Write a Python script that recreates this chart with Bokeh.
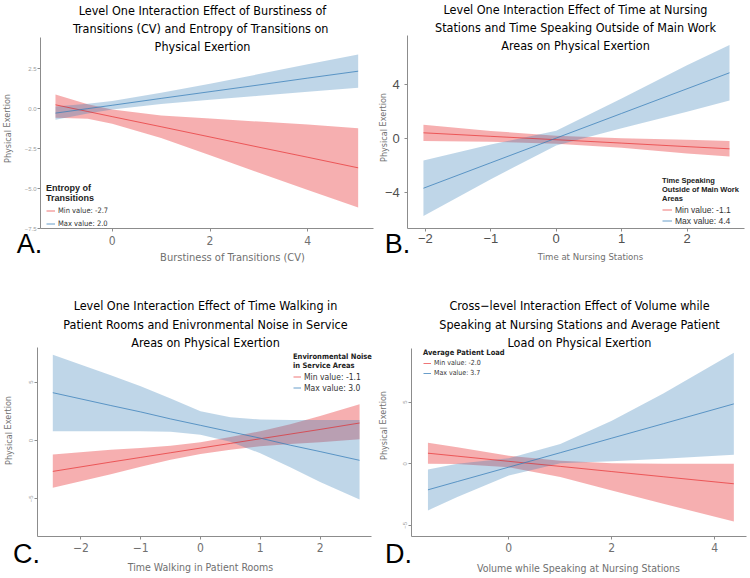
from bokeh.plotting import figure
from bokeh.models import Label, Legend, LegendItem, FixedTicker, Range1d, LinearAxis
from bokeh.layouts import gridplot
from bokeh.embed import file_html
from bokeh.resources import INLINE

RED = "#E41A1C"
BLUE = "#377EB8"
NARROW = "DejaVu Sans Condensed"
SANS = "Liberation Sans"
AXIS_GRAY = "#8c8c8c"
LABEL_GRAY = "#707070"

# ---------------- Panel A ----------------
a_x = [-1.16, -0.5, 0, 1, 2, 3, 4, 5.03]
a_min_fit = [0.25, -0.17, -0.49, -1.12, -1.76, -2.40, -3.03, -3.69]
a_min_hi = [0.89, 0.28, -0.04, -0.42, -0.61, -0.80, -0.98, -1.21]
a_min_lo = [-0.56, -0.62, -0.94, -1.82, -2.91, -4.00, -5.08, -6.17]
a_max_fit = [-0.27, 0.01, 0.22, 0.65, 1.07, 1.49, 1.92, 2.35]
a_max_hi = [0.15, 0.31, 0.49, 1.00, 1.57, 2.17, 2.78, 3.40]
a_max_lo = [-0.69, -0.29, -0.05, 0.30, 0.57, 0.81, 1.06, 1.31]
a_xticks = [0, 2, 4]
a_yticks = [-7.5, -5.0, -2.5, 0.0, 2.5]
a_ytick_labels = ["\u22127.5", "\u22125.0", "\u22122.5", "0.0", "2.5"]
a_title = ["Level One Interaction Effect of Burstiness of",
           "Transitions (CV) and  Entropy of Transitions on",
           "Physical Exertion"]
a_xlabel = "Burstiness of Transitions (CV)"
a_legend_title = "Entropy of\nTransitions"
a_legend = ["Min value: -2.7", "Max value: 2.0"]

# ---------------- Panel B ----------------
b_x = [-2.03, -1, 0, 1, 2, 2.65]
b_min_fit = [0.42, 0.16, -0.09, -0.34, -0.60, -0.76]
b_min_hi = [1.02, 0.56, 0.21, 0.01, -0.10, -0.19]
b_min_lo = [-0.18, -0.24, -0.39, -0.69, -1.10, -1.33]
b_max_fit = [-3.67, -1.79, 0.03, 1.85, 3.67, 4.85]
b_max_hi = [-1.62, -0.45, 0.58, 2.95, 5.40, 6.90]
b_max_lo = [-5.72, -3.00, -0.52, 0.76, 1.98, 2.80]
b_xticks = [-2, -1, 0, 1, 2]
b_yticks = [-4, 0, 4]
b_title = ["Level One Interaction Effect of Time at Nursing",
           "Stations and Time Speaking Outside of Main Work",
           "Areas on Physical Exertion"]
b_xlabel = "Time at Nursing Stations"
b_legend_title = "Time Speaking\nOutside of Main Work\nAreas"
b_legend = ["Min value: -1.1", "Max value: 4.4"]

# ---------------- Panel C ----------------
c_x = [-2.47, -1.5, -1, -0.5, 0, 0.5, 1, 1.5, 2, 2.66]
c_min_fit = [-2.65, -1.85, -1.45, -1.05, -0.65, -0.25, 0.15, 0.55, 0.95, 1.5]
c_min_hi = [-1.2, -0.8, -0.65, -0.45, -0.15, 0.3, 0.8, 1.4, 2.1, 3.1]
c_min_lo = [-4.05, -2.9, -2.25, -1.65, -1.15, -0.8, -0.5, -0.3, -0.15, 0.1]
c_max_fit = [4.1, 3.0, 2.45, 1.85, 1.3, 0.75, 0.2, -0.4, -0.95, -1.7]
c_max_hi = [7.35, 5.6, 4.65, 3.6, 2.5, 2.0, 1.8, 1.75, 1.75, 1.75]
c_max_lo = [0.8, 0.8, 0.8, 0.75, 0.5, -0.1, -1.1, -2.3, -3.55, -5.05]
c_xticks = [-2, -1, 0, 1, 2]
c_yticks = [-5, 0, 5]
c_title = ["Level One Interaction Effect of Time Walking in",
           "Patient Rooms and Enivronmental Noise in Service",
           "Areas on Physical Exertion"]
c_xlabel = "Time Walking in Patient Rooms"
c_legend_title = "Environmental Noise\nin Service Areas"
c_legend = ["Min value: -1.1", "Max value: 3.0"]

# ---------------- Panel D ----------------
d_x = [-1.57, -1, 0, 1, 2, 3, 4.37]
d_min_fit = [0.86, 0.62, 0.20, -0.21, -0.63, -1.05, -1.62]
d_min_hi = [1.70, 1.35, 0.65, 0.25, 0.05, 0.0, 0.0]
d_min_lo = [0.0, -0.02, -0.27, -1.08, -2.16, -3.24, -4.68]
d_max_fit = [-2.11, -1.44, -0.27, 0.90, 2.08, 3.25, 4.86]
d_max_hi = [-0.46, 0.0, 0.45, 1.6, 3.5, 5.7, 9.0]
d_max_lo = [-3.78, -2.7, -0.95, 0.05, 0.2, 0.4, 0.73]
d_xticks = [0, 2, 4]
d_yticks = [-5, 0, 5]
d_title = ["Cross\u2212level Interaction Effect of Volume while",
           "Speaking at Nursing Stations and Average Patient",
           "Load on Physical Exertion"]
d_xlabel = "Volume while Speaking at Nursing Stations"
d_legend_title = "Average Patient Load"
d_legend = ["Min value: -2.0", "Max value: 3.7"]

YLABEL = "Physical Exertion"


def make_panel(fig_box, scale, plot_box, xticks, yticks, x, mn_fit, mn_hi, mn_lo,
               mx_fit, mx_hi, mx_lo):
    """fig_box: (left, top, width, height) in picture px; scale: (X0, KX, Y0, KY) px of value 0
    and px per unit; plot_box: (left, right, top, bottom) of the axes in picture px."""
    fl, ft, w, h = fig_box
    X0, KX, Y0, KY = scale
    xr = ((fl - X0) / KX, (fl + w - X0) / KX)
    yr = ((Y0 - (ft + h)) / KY, (Y0 - ft) / KY)
    p = figure(width=w, height=h, x_range=Range1d(*xr), y_range=Range1d(*yr),
               output_backend="svg", toolbar_location=None,
               x_axis_location=None, y_axis_location=None,
               min_border_left=0, min_border_right=0, min_border_top=0, min_border_bottom=0)
    p.grid.visible = False
    p.outline_line_color = None
    p.background_fill_color = "white"
    p.border_fill_color = "white"
    pl, pr, pt, pb = plot_box
    xl, xh = (pl - X0) / KX, (pr - X0) / KX
    yl, yh = (Y0 - pb) / KY, (Y0 - pt) / KY
    xaxis = LinearAxis(fixed_location=yl, bounds=(xl, xh), ticker=FixedTicker(ticks=xticks))
    yaxis = LinearAxis(fixed_location=xl, bounds=(yl, yh), ticker=FixedTicker(ticks=yticks))
    p.add_layout(xaxis, "below")
    p.add_layout(yaxis, "left")
    p.varea(x=x, y1=mn_lo, y2=mn_hi, fill_color=RED, fill_alpha=0.35)
    p.varea(x=x, y1=mx_lo, y2=mx_hi, fill_color=BLUE, fill_alpha=0.32)
    r1 = p.line(x, mn_fit, line_color=RED, line_alpha=0.6, line_width=1)
    r2 = p.line(x, mx_fit, line_color=BLUE, line_alpha=0.75, line_width=1)
    for ax in (xaxis, yaxis):
        ax.axis_line_color = AXIS_GRAY
        ax.major_tick_line_color = AXIS_GRAY
        ax.minor_tick_line_color = None
        ax.major_tick_in = 0
        ax.major_tick_out = 3
        ax.major_label_text_color = LABEL_GRAY
    return p, xaxis, yaxis, r1, r2


def add_text(p, fig_box, text, rx, ry, size, color="black", font=NARROW, angle=0.0,
             style="normal", align="center"):
    fl, ft, w, h = fig_box
    p.add_layout(Label(x=rx - fl, y=(ft + h) - ry, x_units="screen", y_units="screen", text=text,
                       text_font=font, text_font_size=f"{size}px", text_color=color,
                       text_align=align, text_baseline="middle", angle=angle,
                       text_font_style=style))


def add_legend(p, r1, r2, title, labels, loc, title_font, title_size, label_font, label_size,
               label_h, glyph_w):
    leg = Legend(items=[LegendItem(label=labels[0], renderers=[r1]),
                        LegendItem(label=labels[1], renderers=[r2])],
                 location=loc, title=title, title_text_font=title_font,
                 title_text_font_size=f"{title_size}px", title_text_font_style="bold",
                 title_text_color="#222222", title_standoff=1,
                 label_text_font=label_font, label_text_font_size=f"{label_size}px",
                 label_text_color="#333333", label_height=label_h, glyph_height=label_h,
                 glyph_width=glyph_w, label_standoff=3, spacing=0, padding=0, margin=0,
                 border_line_color=None, background_fill_alpha=0)
    p.add_layout(leg, "center")


TITLE_SIZE = 12.5
YLAB_SIZE = 9

# ---------- A ----------
boxA = (0, 0, 375, 290)
pA, axA, ayA, ra1, ra2 = make_panel(boxA, (111.7, 48.9, 108.3, 16.0), (40, 373, 37, 228.3),
                                    a_xticks, a_yticks, a_x, a_min_fit, a_min_hi, a_min_lo,
                                    a_max_fit, a_max_hi, a_max_lo)
ayA.major_label_overrides = {t: s for t, s in zip(a_yticks, a_ytick_labels)}
ayA.major_label_text_font_size = "6px"
ayA.major_label_text_color = "#a0a0a0"
ayA.major_label_standoff = 1
axA.major_label_text_font = NARROW
axA.major_label_text_font_size = "12px"
axA.major_label_standoff = 4
for i, line in enumerate(a_title):
    add_text(pA, boxA, line, 202, 10 + 18 * i, TITLE_SIZE)
add_text(pA, boxA, a_xlabel, 232, 257, 11, color=LABEL_GRAY)
add_text(pA, boxA, YLABEL, 7, 128, YLAB_SIZE, color=LABEL_GRAY, angle=1.5708)
add_text(pA, boxA, "A.", 29, 243, 27, font=SANS)
add_legend(pA, ra1, ra2, a_legend_title, a_legend, (46, 60), SANS, 9, NARROW, 7.5, 13, 9)

# ---------- B ----------
boxB = (375, 0, 375, 290)
pB, axB, ayB, rb1, rb2 = make_panel(boxB, (555.7, 65.4, 138.0, 13.55), (407.3, 744, 35, 228.3),
                                    b_xticks, b_yticks, b_x, b_min_fit, b_min_hi, b_min_lo,
                                    b_max_fit, b_max_hi, b_max_lo)
for ax in (axB, ayB):
    ax.major_label_text_font = SANS
    ax.major_label_text_font_size = "13px"
    ax.major_label_text_color = "#505050"
ayB.major_label_standoff = 5
axB.major_label_standoff = 2
for i, line in enumerate(b_title):
    add_text(pB, boxB, line, 575, 9 + 18 * i, TITLE_SIZE)
add_text(pB, boxB, b_xlabel, 590, 256, 9.5, color=LABEL_GRAY)
add_text(pB, boxB, YLABEL, 383, 127, YLAB_SIZE, color=LABEL_GRAY, angle=1.5708)
add_text(pB, boxB, "B.", 397, 243, 27, font=SANS)
add_legend(pB, rb1, rb2, b_legend_title, b_legend, (287, 64), SANS, 7.5, SANS, 8.5, 11, 10)

# ---------- C ----------
boxC = (0, 290, 375, 288)
pC, axC, ayC, rc1, rc2 = make_panel(boxC, (200.0, 59.8, 440.0, 11.66), (36.7, 371, 346.7, 536),
                                    c_xticks, c_yticks, c_x, c_min_fit, c_min_hi, c_min_lo,
                                    c_max_fit, c_max_hi, c_max_lo)
ayC.major_label_orientation = "vertical"
ayC.major_label_text_font_size = "6px"
ayC.major_label_text_color = "#a0a0a0"
ayC.major_label_standoff = 1
axC.major_label_text_font = NARROW
axC.major_label_text_font_size = "12px"
axC.major_label_standoff = 3
for i, line in enumerate(c_title):
    add_text(pC, boxC, line, 205, 305 + 18.5 * i, TITLE_SIZE)
add_text(pC, boxC, c_xlabel, 200, 566, 10.5, color=LABEL_GRAY)
add_text(pC, boxC, YLABEL, 8, 430, YLAB_SIZE, color=LABEL_GRAY, angle=1.5708)
add_text(pC, boxC, "C.", 26, 553, 27, font=SANS)
add_legend(pC, rc1, rc2, c_legend_title, c_legend, (293, 185), NARROW, 7.5, NARROW, 8.5, 11, 8)

# ---------- D ----------
boxD = (375, 290, 375, 288)
pD, axD, ayD, rd1, rd2 = make_panel(boxD, (508.3, 51.5, 463.3, 12.33), (411, 746, 348, 536),
                                    d_xticks, d_yticks, d_x, d_min_fit, d_min_hi, d_min_lo,
                                    d_max_fit, d_max_hi, d_max_lo)
ayD.major_label_orientation = "vertical"
ayD.major_label_text_font_size = "6px"
ayD.major_label_text_color = "#a0a0a0"
ayD.major_label_standoff = 1
axD.major_label_text_font = NARROW
axD.major_label_text_font_size = "12px"
axD.major_label_standoff = 3
for i, line in enumerate(d_title):
    add_text(pD, boxD, line, 579, 305 + 18.5 * i, TITLE_SIZE)
add_text(pD, boxD, d_xlabel, 578, 567, 10.5, color=LABEL_GRAY)
add_text(pD, boxD, YLABEL, 383, 425, YLAB_SIZE, color=LABEL_GRAY, angle=1.5708)
add_text(pD, boxD, "D.", 398, 553, 27, font=SANS)
add_legend(pD, rd1, rd2, d_legend_title, d_legend, (48, 200), NARROW, 7.5, NARROW, 7, 10, 8)

grid = gridplot([[pA, pB], [pC, pD]], toolbar_location=None)
open("out.html", "w").write(file_html(grid, INLINE))
